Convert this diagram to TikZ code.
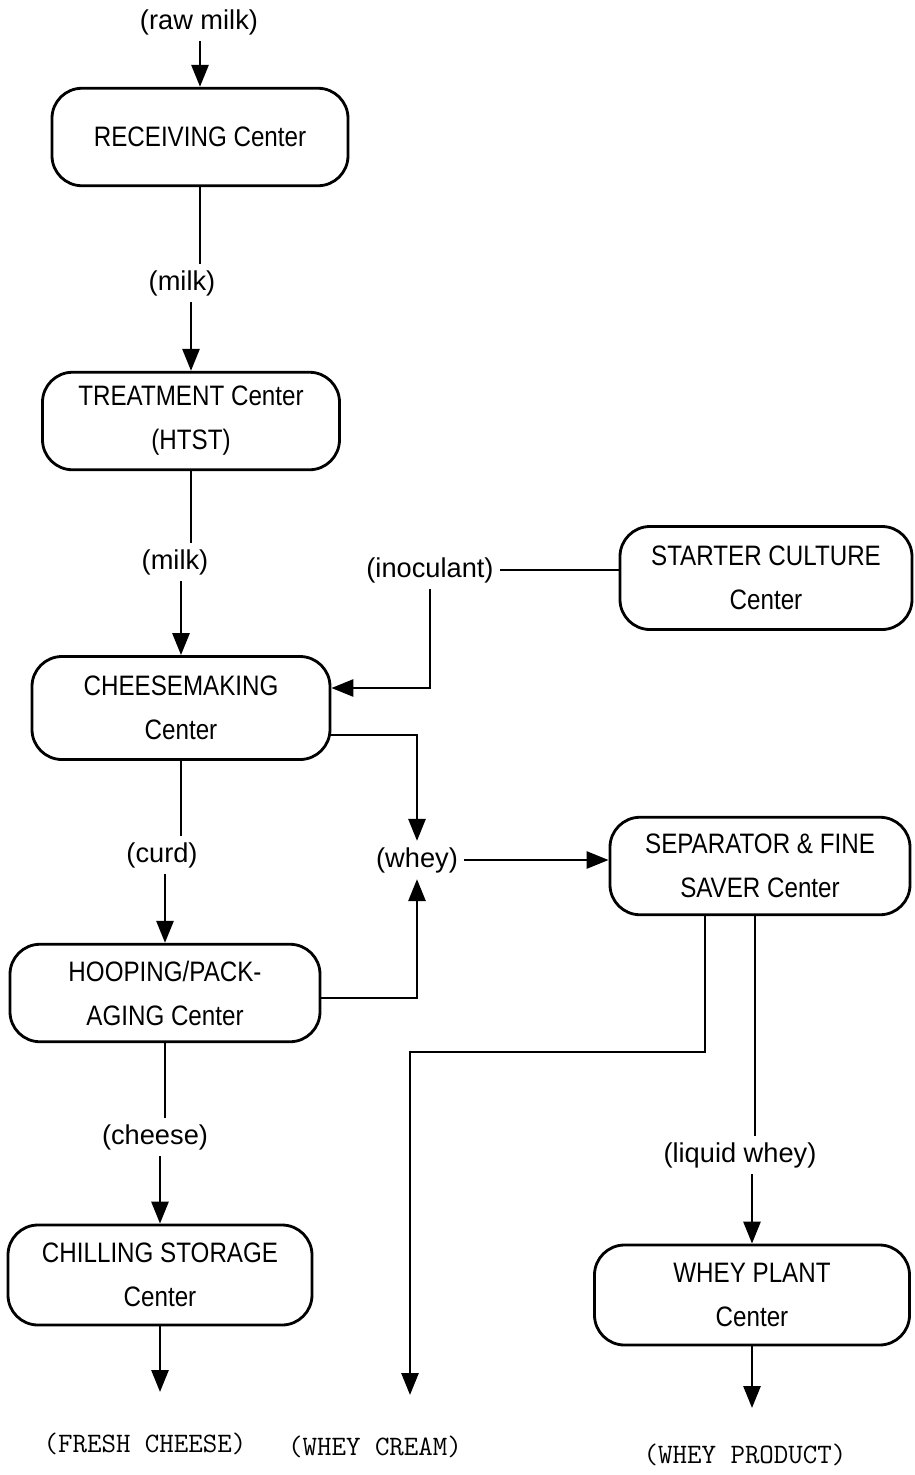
\documentclass[tikz,border=0pt]{standalone}
\usepackage{fontspec}
\setmainfont{Liberation Sans}
\newfontfamily\boxfamily[FakeStretch=0.86]{Liberation Sans}
\newcommand\boxfont{\boxfamily\fontsize{16}{25}\selectfont}
\newcommand\flowfont{\fontsize{15.5}{18}\selectfont}
\newcommand\prodfont{\ttfamily\fontsize{16}{18}\selectfont}
\usetikzlibrary{arrows.meta,
                positioning}

\begin{document}
\begin{tikzpicture}[
    x=0.2mm, y=-0.2mm,
    line width=1.6pt,
        unit/.style = {draw, rectangle, rounded corners=6mm, align=center,
                       minimum height=19.5mm, font=\boxfont},
        flow/.style = {inner sep=1mm, font=\flowfont},
        product/.style = {inner sep=1mm, font=\prodfont},
    >={Triangle[length=4.4mm, width=3.4mm]}
    ]
    \useasboundingbox (0,0) rectangle (915,1475);

    % left column
    \node[flow] (rawmilk) at (199,22) {(raw milk)};
    \node[unit, minimum width=59.2mm] (receiving) at (200,137) {RECEIVING Center};
    \node[flow] (milk-a) at (182,283) {(milk)};
    \node[unit, minimum width=59.4mm] (treatment) at (191,421) {TREATMENT Center\\(HTST)};
    \node[flow] (milk-b) at (175,562) {(milk)};
    \node[unit, minimum width=59.6mm, minimum height=20.6mm] (cheesemaking) at (181,708) {CHEESEMAKING\\Center};
    \node[flow] (curd) at (162,855) {(curd)};
    \node[unit, minimum width=62mm] (hooping) at (165,993) {HOOPING/PACK-\\AGING Center};
    \node[flow] (cheese) at (155,1137) {(cheese)};
    \node[unit, minimum width=60.8mm, minimum height=20mm] (chilling) at (160,1275) {CHILLING STORAGE\\Center};
    \node[product] (freshcheese) at (145,1444) {(FRESH CHEESE)};
    \coordinate (fresh-in) at (157,1392);

    % middle and right column
    \node[flow] (inoculant) at (430,570) {(inoculant)};
    \node[unit, minimum width=58.4mm, minimum height=20.6mm] (starter) at (766,578) {STARTER CULTURE\\Center};
    \node[flow] (whey) at (417,860) {(whey)};
    \node[unit, minimum width=60mm] (separator) at (760,866) {SEPARATOR \& FINE\\SAVER Center};
    \node[flow] (liquidwhey) at (740,1155) {(liquid whey)};
    \node[unit, minimum width=63mm, minimum height=20mm] (wheyplant) at (752,1295) {WHEY PLANT\\Center};
    \node[product] (wheycream) at (375,1447) {(WHEY CREAM)};
    \node[product] (wheyproduct) at (745,1455) {(WHEY PRODUCT)};
    \coordinate (cream-bend) at (410,1052);
    \coordinate (cream-in) at (410,1395);
    \coordinate (product-in) at (740,1408);

    %% milk line
    \draw[->] (receiving.north |- rawmilk.south) -- (receiving.north);
    \draw (receiving.south) -- (receiving.south |- milk-a.north);
    \draw[->] (treatment.north |- milk-a.south) -- (treatment.north);
    \draw (treatment.south) -- (treatment.south |- milk-b.north);
    \draw[->] (cheesemaking.north |- milk-b.south) -- (cheesemaking.north);
    %% inoculant
    \draw (inoculant.east) -- (inoculant.east -| starter.west);
    \draw[->] (inoculant.south) |- ([yshift=4mm]cheesemaking.east);
    %% whey
    \draw[->] ([yshift=-5.4mm]cheesemaking.east) -| (whey.north);
    \draw[->] ([yshift=-1mm]hooping.east) -| (whey.south);
    \draw[->] (whey.east) -- (whey.east -| separator.west);
    %% curd and cheese
    \draw (cheesemaking.south) -- (cheesemaking.south |- curd.north);
    \draw[->] (hooping.north |- curd.south) -- (hooping.north);
    \draw (hooping.south) -- (hooping.south |- cheese.north);
    \draw[->] (chilling.north |- cheese.south) -- (chilling.north);
    \draw[->] (chilling.south) -- (chilling.south |- fresh-in);
    %% separator outputs
    \draw[->] ([xshift=-11mm]separator.south) |- (cream-bend) -- (cream-in);
    \draw ([xshift=-1mm]separator.south) -- ([xshift=-1mm]separator.south |- liquidwhey.north);
    \draw[->] (wheyplant.north |- liquidwhey.south) -- (wheyplant.north);
    \draw[->] (wheyplant.south) -- (wheyplant.south |- product-in);
\end{tikzpicture}
\end{document}
